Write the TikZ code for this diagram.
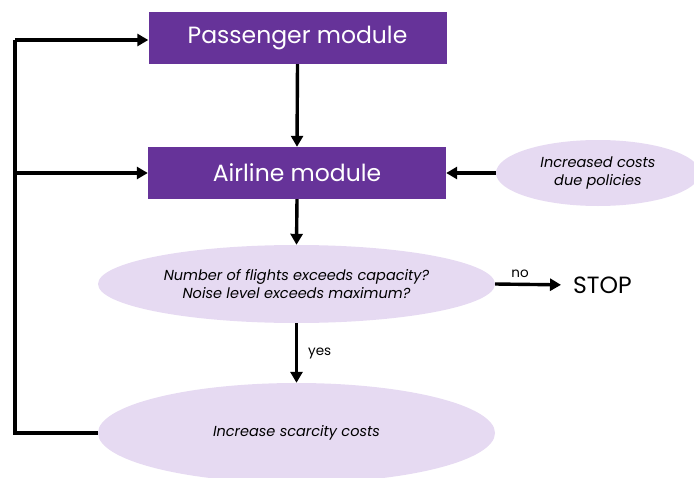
\documentclass[tikz,border=0pt]{standalone}
\usepackage{fontspec}
\setmainfont{Poppins}
\usetikzlibrary{arrows.meta,shapes.geometric}
\definecolor{modpurple}{HTML}{663399}
\definecolor{lilac}{HTML}{E6DAF2}
\tikzset{
  module/.style={fill=modpurple, draw=none, minimum width=298pt, minimum height=52pt,
    text=white, font=\fontsize{23.5}{27}\selectfont, inner sep=0pt},
  bubble/.style={ellipse, fill=lilac, draw=none, inner sep=0pt, align=center,
    font=\fontsize{14.5}{17.5}\selectfont\itshape},
  flow/.style={line width=3.4pt, -{Triangle[length=11pt,width=12pt]}},
  plain/.style={line width=3.4pt},
  lbl/.style={font=\fontsize{13.5}{16}\selectfont, inner sep=1pt}
}
\begin{document}
\begin{tikzpicture}[x=1pt,y=-1pt]
  \useasboundingbox (0,0) rectangle (694,477);
  \begin{scope}
    \clip (0,0) rectangle (694,477);
    % boxes and bubbles
    \node[module] (pass) at (297.5,38) {Passenger module};
    \node[module] (air) at (297,173) {Airline module};
    \node[bubble, minimum width=204pt, minimum height=66pt] (pol) at (598,173)
      {Increased costs\\due policies};
    \node[bubble, minimum width=397pt, minimum height=78pt] (dec) at (296.5,284)
      {Number of flights exceeds capacity?\\Noise level exceeds maximum?};
    \node[bubble, minimum width=397pt, minimum height=100pt] (inc) at (296.5,433)
      {Increase scarcity costs};
    \node[font=\fontsize{23.5}{27}\selectfont, anchor=west, inner sep=0pt] (stop) at (573,285) {STOP};
  \end{scope}
  % corner points of the feedback loop
  \coordinate (bl) at (15,433);
  \coordinate (tl) at (15,40);
  \coordinate (ml) at (15,173);
  % connectors
  \draw[flow] (pass.south) -- (air.north);
  \draw[flow] (air.south) -- (dec.north);
  \draw[flow] (pol.west) -- (air.east);
  \draw[flow, shorten >=12pt] (dec.east) -- node[lbl, above=4pt, xshift=-14pt] {no} (stop.west);
  \draw[flow] (dec.south) -- node[lbl, right=9pt] {yes} (inc.north);
  \draw[plain, line join=miter] (inc.west) -- (bl) -- (tl);
  \draw[flow] (tl) -- (pass.west |- tl);
  \draw[flow] (ml) -- (air.west);
\end{tikzpicture}
\end{document}
